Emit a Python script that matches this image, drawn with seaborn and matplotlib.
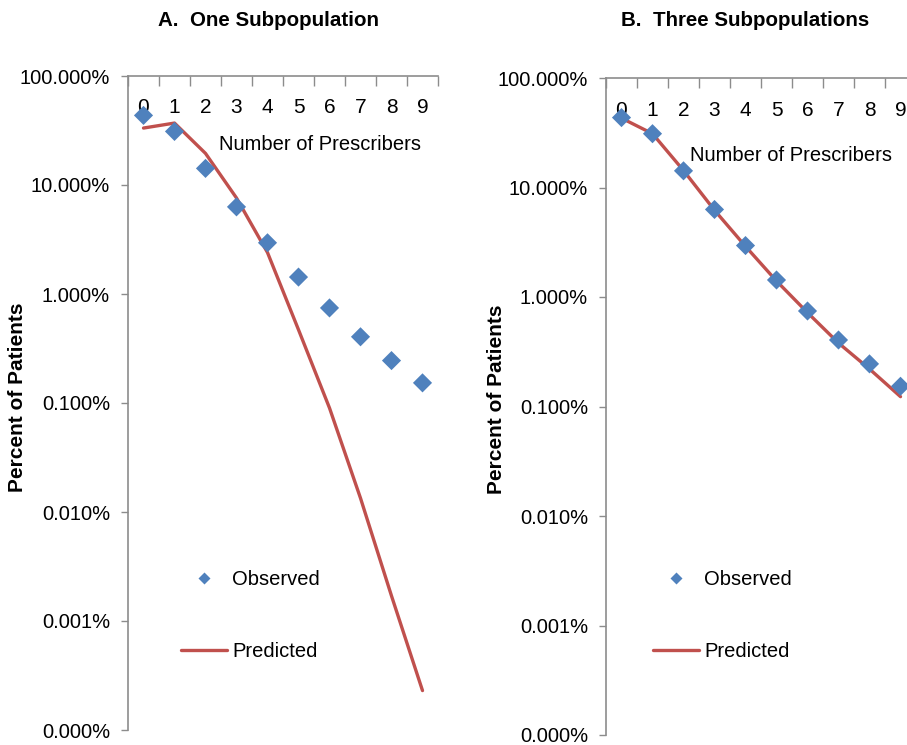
import numpy as np
import pandas as pd
import matplotlib
matplotlib.use("Agg")
import matplotlib.pyplot as plt
import seaborn as sns
from matplotlib.lines import Line2D

# ---- data (percent of patients) ----
prescribers = list(range(10))
observed = [43.5, 31.0, 14.2, 6.3, 2.95, 1.43, 0.745, 0.405, 0.245, 0.153]
predicted_one = [33.3, 37.0, 19.5, 7.6, 2.4, 0.47, 0.090, 0.0134, 0.0017, 0.00023]
predicted_three = [43.0, 31.0, 14.3, 6.2, 2.9, 1.40, 0.72, 0.38, 0.22, 0.123]
y_ticks = [100, 10, 1, 0.1, 0.01, 0.001, 0.0001]
y_tick_labels = ["100.000%", "10.000%", "1.000%", "0.100%", "0.010%", "0.001%", "0.000%"]
x_tick_labels = [str(p) for p in prescribers]
titles = ["A.  One Subpopulation", "B.  Three Subpopulations"]

BLUE = "#4F81BD"
RED = "#C0504D"
GRAY = "#8C8C8C"
W, H = 907, 745

sns.set_theme(style="white")
plt.rcParams["font.family"] = ["Liberation Sans", "DejaVu Sans"]
plt.rcParams["text.color"] = "black"
plt.rcParams["axes.labelcolor"] = "black"
plt.rcParams["xtick.color"] = "black"
plt.rcParams["ytick.color"] = "black"

fig = plt.figure(figsize=(W / 100, H / 100), dpi=100)
axA = fig.add_axes([128 / W, 15 / H, 310 / W, 654 / H])
axB = fig.add_axes([606 / W, 10 / H, 310 / W, 657 / H])


def style(ax, pred, xlab_xy, ylab_xy, leg_anchor, pad):
    sns.lineplot(x=prescribers, y=pred, ax=ax, color=RED, lw=2.4, legend=False, zorder=2)
    sns.scatterplot(x=prescribers, y=observed, ax=ax, marker="D", s=95, color=BLUE,
                    edgecolor="none", legend=False, zorder=3)
    ax.set_yscale("log")
    ax.set_ylim(1e-4, 100)
    ax.set_xlim(-0.5, 9.5)
    ax.set_yticks(y_ticks)
    ax.set_yticklabels(y_tick_labels)
    ax.minorticks_off()
    ax.tick_params(axis="y", which="major", left=True, direction="out", length=5,
                   width=1, color=GRAY, pad=8, labelsize=14.5, labelcolor="black")
    # x axis on top, labels inside
    ax.xaxis.tick_top()
    ax.set_xticks(prescribers)
    ax.set_xticklabels(x_tick_labels)
    ax.set_xticks(np.arange(-0.5, 10, 1), minor=True)
    ax.tick_params(axis="x", which="major", top=True, bottom=False, length=0, pad=pad,
                   labelsize=15, labelcolor="black")
    ax.tick_params(axis="x", which="minor", top=True, bottom=False, direction="in",
                   length=7, width=1, color=GRAY)
    for s in ["right", "bottom"]:
        ax.spines[s].set_visible(False)
    for s in ["left", "top"]:
        ax.spines[s].set_color(GRAY)
        ax.spines[s].set_linewidth(1.2)
    ax.grid(False)
    ax.set_xlabel("Number of Prescribers", fontsize=14.5, color="black")
    ax.xaxis.set_label_position("top")
    ax.xaxis.set_label_coords(*xlab_xy)
    ax.xaxis.label.set_verticalalignment("center")
    ax.set_ylabel("Percent of Patients", fontsize=15, fontweight="bold", color="black")
    ax.yaxis.set_label_coords(*ylab_xy)
    ax.yaxis.label.set_verticalalignment("center")
    handles = [Line2D([], [], marker="D", ls="none", color=BLUE, markersize=6.5, mec="none"),
               Line2D([], [], color=RED, lw=2.4)]
    leg = ax.legend(handles, ["Observed", "Predicted"], loc="center left",
                    bbox_to_anchor=leg_anchor, frameon=False, fontsize=14.5,
                    labelspacing=2.65, handlelength=2.3, handletextpad=0.25,
                    borderpad=0, borderaxespad=0)
    for t in leg.get_texts():
        t.set_color("black")


style(axA, predicted_one, (0.619, 0.895), (-0.355, 0.509), (0.171, 0.175), -29.5)
style(axB, predicted_three, (0.597, 0.882), (-0.352, 0.511), (0.152, 0.182), -30.5)

fig.text(268.5 / W, 1 - 21 / H, titles[0], ha="center", va="center",
         fontsize=14.8, fontweight="bold", color="black")
fig.text(745 / W, 1 - 21 / H, titles[1], ha="center", va="center",
         fontsize=14.8, fontweight="bold", color="black")

fig.savefig("out.png", dpi=100)
